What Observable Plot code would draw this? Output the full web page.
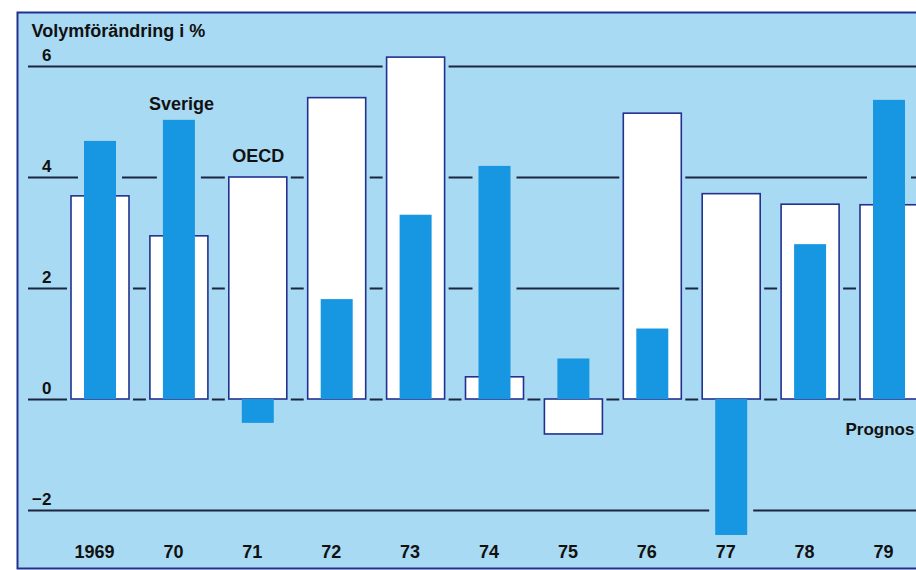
<!DOCTYPE html>
<html>
<head>
<meta charset="utf-8">
<script src="https://cdn.jsdelivr.net/npm/d3@7"></script>
<script src="https://cdn.jsdelivr.net/npm/@observablehq/plot@0.6"></script>
<style>
  html, body { margin: 0; padding: 0; background: white; overflow: hidden; }
  #chart { width: 916px; height: 570px; overflow: hidden; }
  #chart svg { display: block; overflow: hidden; }
</style>
</head>
<body>
<div id="chart"></div>
<script>
// ---- data ----
const years = ["1969", "1970", "1971", "1972", "1973", "1974", "1975", "1976", "1977", "1978", "1979"];
const yearLabels = ["1969", "70", "71", "72", "73", "74", "75", "76", "77", "78", "79"];
const oecd = [3.66, 2.94, 4.0, 5.43, 6.16, 0.4, -0.63, 5.15, 3.7, 3.51, 3.5];
const sverige = [4.65, 5.03, -0.43, 1.8, 3.32, 4.2, 0.73, 1.27, -2.45, 2.79, 5.39];
const yTicks = [6, 4, 2, 0, -2];
const yTickLabels = ["6", "4", "2", "0", "\u22122"];
const title = "Volymförändring i %";

const BG = "#a9daf3";
const BLUE = "#1797e1";
const NAVY = "#22318f";
const GRID = "#1c2540";
const INK = "#111111";

const rows = years.map((y, i) => ({year: y, label: yearLabels[i], oecd: oecd[i], sverige: sverige[i]}));
const ticks = yTicks.map((v, i) => ({v, label: yTickLabels[i]}));

const chart = Plot.plot({
  width: 916,
  height: 570,
  marginLeft: 17,
  marginTop: 12,
  marginBottom: 2,
  marginRight: -20,
  x: {type: "band", domain: years, range: [60.55, 928.45], paddingInner: 0.265, paddingOuter: 0.1325, round: false, axis: null},
  y: {domain: [-2, 6], range: [510, 66], axis: null},
  style: {background: "white", fontFamily: "'Liberation Sans', Arial, sans-serif", overflow: "hidden"},
  marks: [
    Plot.frame({fill: BG, stroke: NAVY, strokeWidth: 2}),
    Plot.ruleY(ticks, {y: "v", stroke: GRID, strokeWidth: 1.8, insetLeft: 11}),
    // light halos that interrupt the grid lines next to the bars
    Plot.barY(rows, {x: "year", y: "oecd", fill: BG, insetLeft: -4, insetRight: -4, insetTop: -3, insetBottom: -3}),
    Plot.barY(rows, {x: "year", y: "sverige", fill: BG, insetLeft: 13 - 6, insetRight: 13 - 6, insetTop: -3, insetBottom: -3}),
    // OECD: white bars with navy outline
    Plot.barY(rows, {x: "year", y: "oecd", fill: "white", stroke: NAVY, strokeWidth: 1.6}),
    // Sverige: blue bars
    Plot.barY(rows, {x: "year", y: "sverige", fill: BLUE, insetLeft: 13, insetRight: 13}),
    // y tick labels
    Plot.text(ticks, {y: "v", text: "label", frameAnchor: "left", dx: 34, dy: -11, textAnchor: "end", fontSize: 17, fontWeight: "bold", fill: INK}),
    // year labels
    Plot.text(rows, {x: "year", text: "label", frameAnchor: "bottom", dy: -11, dx: -6, fontSize: 18, fontWeight: "bold", fill: INK}),
    // annotations
    Plot.text(["Sverige"], {x: () => "1970", y: () => 5.32, dx: 2, fontSize: 18, fontWeight: "bold", fill: INK}),
    Plot.text(["OECD"], {x: () => "1971", y: () => 4.38, dx: 0, fontSize: 18, fontWeight: "bold", fill: INK}),
    Plot.text(["Prognos"], {x: () => "1979", y: () => -0.55, dx: -44, textAnchor: "start", fontSize: 17, fontWeight: "bold", fill: INK}),
    // title
    Plot.text([title], {frameAnchor: "top-left", dx: 14, dy: 12, textAnchor: "start", fontSize: 18, fontWeight: "bold", fill: INK})
  ]
});
document.getElementById("chart").appendChild(chart);
</script>
</body>
</html>
